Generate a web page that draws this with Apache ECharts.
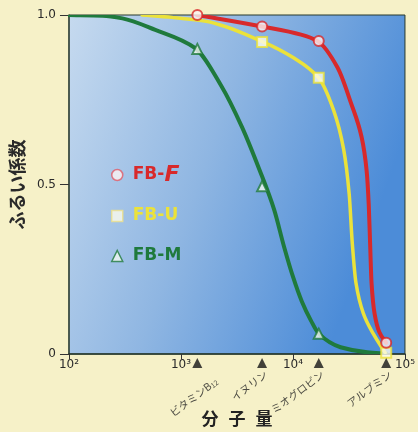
<!DOCTYPE html>
<html>
<head>
<meta charset="utf-8">
<script src="https://cdn.jsdelivr.net/npm/echarts@6/dist/echarts.min.js"></script>
<style>
  html, body { margin: 0; padding: 0; background: #f6f1c8; }
  #chart { width: 418px; height: 432px; }
</style>
</head>
<body>
<div id="chart"></div>
<script>
// Marker molecules on the molecular-weight axis
const proteinNames = ['ビタミンB12', 'イヌリン', 'ミオグロビン', 'アルブミン'];
const molWeights = [1400, 5300, 17000, 68000];

// Measured sieving coefficients at each marker molecule
const fbF = [1.0, 0.966, 0.923, 0.033];
const fbU = [null, 0.92, 0.815, 0.004];
const fbM = [0.90, 0.495, 0.06, null];

// Fitted sieving curves [molecular weight, coefficient]
const curveF = [
  [1390, 1.0], [5290, 0.966], [11800, 0.942], [16600, 0.923], [25000, 0.845],
  [33000, 0.740], [41000, 0.640], [45500, 0.540], [47500, 0.440],
  [48800, 0.330], [50300, 0.210], [53500, 0.120], [59000, 0.065], [67900, 0.033]
];
const curveU = [
  [450, 1.0], [830, 0.993], [1630, 0.982], [5200, 0.923], [10200, 0.873], [16900, 0.815],
  [23000, 0.720], [28300, 0.605], [31800, 0.470], [33800, 0.330],
  [36500, 0.210], [42500, 0.120], [52100, 0.060], [66500, 0.004]
];
const curveM = [
  [100, 1.0], [200, 0.998], [300, 0.990], [590, 0.956], [1330, 0.903],
  [2300, 0.790], [3500, 0.670], [5000, 0.545], [6800, 0.425],
  [8300, 0.318], [10000, 0.228], [12000, 0.155], [14400, 0.100],
  [17000, 0.060], [26600, 0.020], [46000, 0.005], [68000, 0.001]
];

// Axis tick labels
const xTickLabels = ['10²', '10³', '10⁴', '10⁵'];
const yTickLabels = ['0', '0.5', '1.0'];

const RED = '#d8292b';
const YELLOW = '#ebe23a';
const GREEN = '#1f7a3c';

const chart = echarts.init(document.getElementById('chart'), null, { renderer: 'canvas' });

function pairs(values) {
  return values.map((v, i) => (v === null ? null : [molWeights[i], v])).filter(Boolean);
}

// Monotone cubic (PCHIP) path through pixel points, as SVG path data
function monotonePath(pts) {
  const n = pts.length;
  const h = [], d = [];
  for (let i = 0; i < n - 1; i++) {
    h[i] = pts[i + 1][0] - pts[i][0];
    d[i] = (pts[i + 1][1] - pts[i][1]) / h[i];
  }
  const m = new Array(n);
  m[0] = d[0];
  m[n - 1] = d[n - 2];
  for (let i = 1; i < n - 1; i++) {
    if (d[i - 1] * d[i] <= 0) { m[i] = 0; continue; }
    const w1 = 2 * h[i] + h[i - 1];
    const w2 = h[i] + 2 * h[i - 1];
    m[i] = (w1 + w2) / (w1 / d[i - 1] + w2 / d[i]);
  }
  let s = 'M' + pts[0][0] + ' ' + pts[0][1];
  for (let i = 0; i < n - 1; i++) {
    const t = h[i] / 3;
    s += ' C' + (pts[i][0] + t) + ' ' + (pts[i][1] + m[i] * t) + ' ' +
      (pts[i + 1][0] - t) + ' ' + (pts[i + 1][1] - m[i + 1] * t) + ' ' +
      pts[i + 1][0] + ' ' + pts[i + 1][1];
  }
  return s;
}

function curve(name, data, color, width) {
  return {
    name: name + '-curve',
    type: 'custom',
    coordinateSystem: 'cartesian2d',
    clip: true,
    silent: true,
    data: [data[0]],
    z: 2,
    renderItem: (params, api) => {
      const pts = data.map(p => api.coord(p));
      return {
        type: 'path',
        shape: { pathData: monotonePath(pts) },
        style: { fill: 'none', stroke: color, lineWidth: width, lineJoin: 'round', lineCap: 'round' }
      };
    }
  };
}

function markers(name, values, symbol, fill, border) {
  return {
    name: name,
    type: 'scatter',
    data: pairs(values),
    symbol: symbol,
    symbolSize: 10,
    itemStyle: { color: fill, borderColor: border, borderWidth: 2 },
    z: 5
  };
}

const legendFont = 'DejaVu Sans';

const option = {
  backgroundColor: '#f6f1c8',
  animation: false,
  grid: {
    left: 66, right: 13, top: 15, bottom: 78,
    show: true,
    borderColor: '#26382c',
    borderWidth: 1,
    backgroundColor: new echarts.graphic.LinearGradient(0, 0, 1, 0.35, [
      { offset: 0, color: '#c6daef' },
      { offset: 0.5, color: '#8fb6e2' },
      { offset: 1, color: '#4c8cd8' }
    ])
  },
  xAxis: {
    type: 'log',
    logBase: 10,
    min: 100,
    max: 100000,
    name: '{c|分}{sp| }{c|子}{sp| }{c|量}',
    nameLocation: 'middle',
    nameGap: 56,
    nameTextStyle: {
      rich: {
        c: { fontSize: 17, fontWeight: 'bold', color: '#222', fontFamily: 'Noto Sans CJK JP' },
        sp: { width: 10, fontSize: 17 }
      }
    },
    axisLine: { show: true, lineStyle: { color: '#26382c', width: 1.5 } },
    axisTick: { show: true, length: 5, lineStyle: { color: '#333' } },
    splitLine: { show: false },
    minorTick: { show: false },
    axisLabel: {
      margin: 5,
      fontSize: 12,
      color: '#2a2a2a',
      fontFamily: 'DejaVu Sans',
      formatter: v => xTickLabels[Math.round(Math.log10(v)) - 2] || ''
    }
  },
  yAxis: {
    type: 'value',
    min: 0,
    max: 1,
    interval: 0.5,
    name: 'ふるい係数',
    nameLocation: 'middle',
    nameRotate: 90,
    nameGap: 33,
    nameTextStyle: { fontSize: 18, color: '#2a2a2a', fontFamily: 'Noto Sans CJK JP', fontWeight: 'bold' },
    axisLine: { show: true, lineStyle: { color: '#3a4a40', width: 1.5 } },
    axisTick: { show: true, length: 9, lineStyle: { color: '#333' } },
    splitLine: { show: false },
    axisLabel: {
      margin: 13,
      fontSize: 12,
      color: '#2a2a2a',
      fontFamily: 'DejaVu Sans',
      formatter: v => yTickLabels[Math.round(v / 0.5)]
    }
  },
  legend: {
    orient: 'vertical',
    left: 106,
    top: 159,
    itemWidth: 11,
    itemHeight: 11,
    itemGap: 20,
    selectedMode: false,
    textStyle: {
      padding: [0, 0, 0, 5],
      lineHeight: 20,
      rich: {
        r: { color: RED, fontSize: 17, fontWeight: 'bold', fontFamily: legendFont },
        rf: { color: RED, fontSize: 22, fontWeight: 900, fontStyle: 'italic', fontFamily: legendFont },
        u: { color: YELLOW, fontSize: 17, fontWeight: 'bold', fontFamily: legendFont },
        m: { color: GREEN, fontSize: 17, fontWeight: 'bold', fontFamily: legendFont }
      }
    },
    formatter: name => {
      if (name === 'FB-F') return '{r|FB-}{rf|F}';
      if (name === 'FB-U') return '{u|FB-U}';
      return '{m|FB-M}';
    },
    data: [
      { name: 'FB-F', icon: 'circle', itemStyle: { color: '#fdf2f2', borderColor: '#e05a66', borderWidth: 1.5 } },
      { name: 'FB-U', icon: 'rect', itemStyle: { color: '#fbfbee', borderColor: '#eee08a', borderWidth: 1.5 } },
      { name: 'FB-M', icon: 'triangle', itemStyle: { color: '#f2f8f2', borderColor: GREEN, borderWidth: 1.5 } }
    ]
  },
  series: [
    curve('FB-M', curveM, GREEN, 4),
    curve('FB-U', curveU, YELLOW, 3.5),
    curve('FB-F', curveF, RED, 4),
    markers('FB-M', fbM, 'triangle', '#f2f8f2', GREEN),
    markers('FB-U', fbU, 'rect', '#fbfbee', YELLOW),
    markers('FB-F', fbF, 'circle', '#fdf2f2', RED),
    {
      // Marker molecules drawn as black triangles beneath the axis
      name: 'markers',
      type: 'scatter',
      clip: false,
      silent: true,
      data: molWeights.map((w, i) => ({
        value: [w, 0],
        label: i === 0 ? { position: [24, 22] } : undefined
      })),
      symbol: 'triangle',
      symbolSize: 10,
      symbolOffset: [0, 9],
      itemStyle: { color: '#151515' },
      z: 6,
      label: {
        show: true,
        position: [9, 15],
        align: 'right',
        verticalAlign: 'middle',
        rotate: 37,
        fontSize: 10.5,
        color: '#222',
        fontFamily: 'Noto Sans CJK JP',
        formatter: p => proteinNames[p.dataIndex].replace(/(\d+)$/, '{s|$1}'),
        rich: { s: { fontSize: 7, color: '#222', padding: [4, 0, 0, 0] } }
      }
    }
  ]
};

chart.setOption(option);
</script>
</body>
</html>
